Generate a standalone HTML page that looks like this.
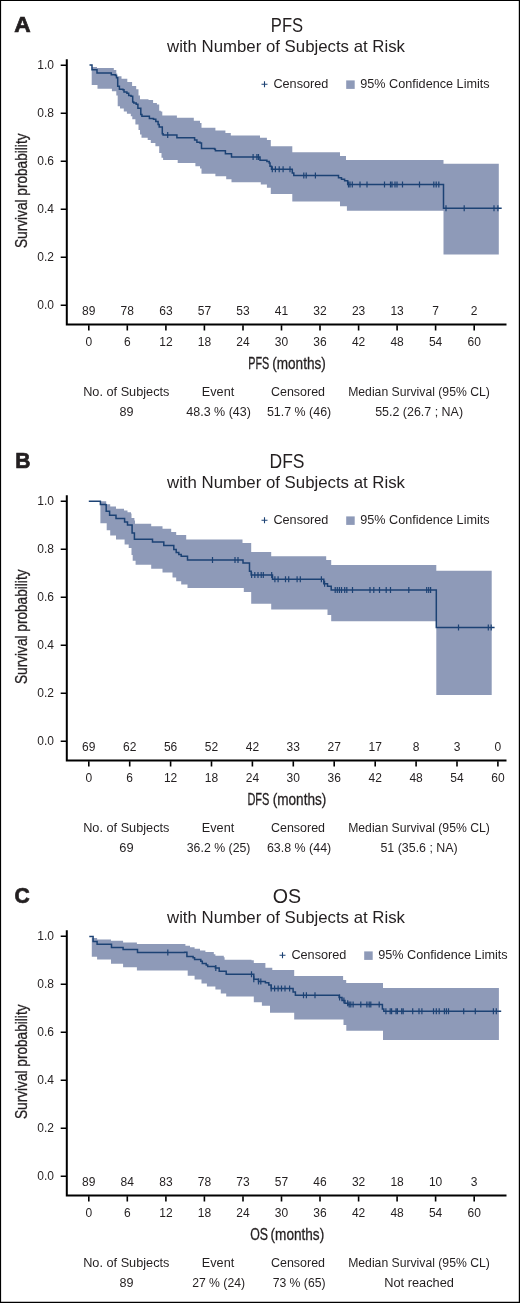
<!DOCTYPE html>
<html><head><meta charset="utf-8"><style>
html,body{margin:0;padding:0;background:#fff;}
svg{display:block;will-change:transform;}
text{font-family:"Liberation Sans", sans-serif;fill:#231f20;}
</style></head><body>
<svg width="520" height="1303" viewBox="0 0 520 1303">
<rect x="0" y="0" width="520" height="1303" fill="#fff"/>
<text x="14.2" y="31.7" font-size="21.5" text-anchor="start" textLength="16.4" lengthAdjust="spacingAndGlyphs" font-weight="bold" stroke="#231f20" stroke-width="0.7">A</text>
<text x="287" y="31.7" font-size="19.5" text-anchor="middle" textLength="32.3" lengthAdjust="spacingAndGlyphs">PFS</text>
<text x="167" y="51.9" font-size="17" text-anchor="start" textLength="238" lengthAdjust="spacingAndGlyphs">with Number of Subjects at Risk</text>
<polygon points="91.7,67.1 97.0,67.1 97.0,68.1 111.0,68.1 113.8,68.1 113.8,70.0 116.3,70.0 116.3,73.4 117.2,73.4 117.2,76.3 121.5,76.3 121.5,78.7 127.3,78.7 127.3,82.0 132.1,82.0 132.1,85.9 136.2,85.9 136.2,89.2 138.5,89.2 138.5,95.4 140.0,95.4 140.0,99.2 147.7,99.2 148.5,99.2 148.5,100.0 153.1,100.0 153.1,103.1 156.9,103.1 156.9,104.6 159.2,104.6 159.2,110.8 160.8,110.8 160.8,111.5 162.3,111.5 162.3,115.4 176.2,115.4 176.9,115.4 176.9,117.7 193.1,117.7 193.8,117.7 193.8,120.8 200.0,120.8 200.0,123.1 201.5,123.1 201.5,127.7 214.6,127.7 215.4,127.7 215.4,130.5 224.6,130.5 225.4,130.5 225.4,133.1 230.0,133.1 230.8,133.1 230.8,135.4 259.2,135.4 260.0,135.4 260.0,137.7 266.2,137.7 266.9,137.7 266.9,140.0 270.0,140.0 270.8,140.0 270.8,146.2 291.5,146.2 292.3,146.2 292.3,152.3 340.0,152.3 340.0,156.0 346.0,156.0 346.0,160.0 443.5,160.0 443.5,163.8 498.8,163.8 498.8,254.4 443.5,254.4 443.5,210.8 346.9,210.8 346.9,206.2 346.2,206.2 340.0,206.2 340.0,201.5 339.2,201.5 292.3,201.5 292.3,194.0 291.5,194.0 270.8,194.0 270.8,187.7 266.9,187.7 266.9,184.6 260.8,184.6 260.8,182.3 231.5,182.3 231.5,179.2 226.2,179.2 226.2,176.2 215.4,176.2 215.4,173.8 201.5,173.8 201.5,168.5 200.0,168.5 200.0,166.2 195.4,166.2 195.4,163.1 193.8,163.1 177.7,163.1 177.7,160.0 176.9,160.0 163.1,160.0 163.1,157.7 161.5,157.7 161.5,153.1 159.2,153.1 159.2,146.2 155.4,146.2 155.4,143.1 150.8,143.1 150.8,140.0 147.7,140.0 147.7,137.7 141.5,137.7 141.5,134.6 140.0,134.6 140.0,130.0 138.5,130.0 138.5,124.6 135.4,124.6 135.4,119.2 132.3,119.2 132.3,116.2 130.8,116.2 130.8,113.8 126.9,113.8 126.9,111.5 123.8,111.5 123.8,108.5 120.0,108.5 120.0,106.2 117.7,106.2 117.7,95.5 116.3,95.5 116.3,91.2 111.9,91.2 111.9,88.8 111.4,88.8 97.5,88.8 97.5,84.9 91.7,84.9" fill="#8e9ab8"/>
<polyline points="89.5,65.0 92.0,65.0 92.0,69.8 97.0,69.8 97.0,73.1 110.8,73.1 111.3,73.1 111.3,74.8 115.4,74.8 115.4,75.4 116.5,75.4 116.5,77.7 117.7,77.7 117.7,86.3 119.4,86.3 119.4,89.2 122.9,89.2 122.9,89.8 124.0,89.8 124.0,92.1 126.9,92.1 126.9,93.3 128.7,93.3 128.7,95.6 131.0,95.6 131.0,96.2 132.7,96.2 132.7,101.9 133.8,101.9 133.8,103.1 136.2,103.1 136.2,104.2 137.9,104.2 137.9,108.3 140.8,108.3 140.8,114.6 141.9,114.6 141.9,116.3 147.7,116.3 149.4,116.3 149.4,118.6 153.5,118.6 153.5,119.2 155.8,119.2 155.8,121.5 158.1,121.5 158.1,124.4 159.2,124.4 159.2,126.9 162.3,126.9 162.3,133.8 163.1,133.8 163.1,134.9 176.2,134.9 176.9,134.9 176.9,137.7 193.8,137.7 194.6,137.7 194.6,140.0 196.9,140.0 196.9,142.3 200.0,142.3 200.0,143.1 201.5,143.1 201.5,148.5 214.6,148.5 214.6,149.2 215.4,149.2 215.4,150.8 223.8,150.8 225.4,150.8 225.4,153.8 230.0,153.8 231.5,153.8 231.5,156.9 260.0,156.9 260.0,160.3 266.9,160.3 266.9,161.5 269.2,161.5 269.2,163.1 270.0,163.1 270.0,166.2 271.5,166.2 271.5,169.2 290.8,169.2 292.3,169.2 292.3,173.1 293.8,173.1 293.8,175.4 337.7,175.4 338.5,175.4 338.5,177.7 341.5,177.7 341.5,179.2 344.6,179.2 344.6,180.8 347.7,180.8 347.7,184.6 443.5,184.6 443.5,208.3 501.7,208.3" fill="none" stroke="#1c4274" stroke-width="1.5"/>
<path d="M167.7 131.9V137.9 M253.1 153.9V159.9 M256.9 153.9V159.9 M258.5 153.9V159.9 M272.3 166.2V172.2 M275.4 166.2V172.2 M279.2 166.2V172.2 M283.1 166.2V172.2 M290.0 166.2V172.2 M303.8 172.4V178.4 M306.2 172.4V178.4 M315.4 172.4V178.4 M348.5 181.6V187.6 M350.0 181.6V187.6 M352.3 181.6V187.6 M360.0 181.6V187.6 M367.0 181.6V187.6 M384.5 181.6V187.6 M390.5 181.6V187.6 M392.0 181.6V187.6 M395.0 181.6V187.6 M397.0 181.6V187.6 M402.5 181.6V187.6 M419.5 181.6V187.6 M433.8 181.6V187.6 M436.2 181.6V187.6 M438.8 181.6V187.6 M446.0 205.3V211.3 M464.2 205.3V211.3 M494.0 205.3V211.3 M497.9 205.3V211.3" stroke="#1c4274" stroke-width="1.2" fill="none"/>
<path d="M261.5 84.3h6M264.5 81.3v6" stroke="#1c4274" stroke-width="1.1"/>
<text x="273.4" y="88.1" font-size="13.3" text-anchor="start" textLength="55" lengthAdjust="spacingAndGlyphs">Censored</text>
<rect x="346.2" y="80.4" width="8.5" height="8.5" fill="#8e9ab8"/>
<text x="360.2" y="88.1" font-size="13.3" text-anchor="start" textLength="129.5" lengthAdjust="spacingAndGlyphs">95% Confidence Limits</text>
<path d="M66.8 59.3V325.6M65.8 324.6H506.5" stroke="#000" stroke-width="2" fill="none"/>
<path d="M60.7 65.2H66.8 M60.7 113.2H66.8 M60.7 161.2H66.8 M60.7 209.2H66.8 M60.7 257.2H66.8 M60.7 305.2H66.8 M88.8 325.2V330.4 M127.3 325.2V330.4 M165.9 325.2V330.4 M204.4 325.2V330.4 M243.0 325.2V330.4 M281.5 325.2V330.4 M320.0 325.2V330.4 M358.6 325.2V330.4 M397.1 325.2V330.4 M435.6 325.2V330.4 M474.2 325.2V330.4" stroke="#000" stroke-width="1.6" fill="none"/>
<text x="54.0" y="68.8" font-size="12" text-anchor="end">1.0</text>
<text x="54.0" y="116.8" font-size="12" text-anchor="end">0.8</text>
<text x="54.0" y="164.79999999999998" font-size="12" text-anchor="end">0.6</text>
<text x="54.0" y="212.79999999999998" font-size="12" text-anchor="end">0.4</text>
<text x="54.0" y="260.8" font-size="12" text-anchor="end">0.2</text>
<text x="54.0" y="308.8" font-size="12" text-anchor="end">0.0</text>
<text x="88.8" y="346.2" font-size="12" text-anchor="middle">0</text>
<text x="88.8" y="315.4" font-size="12" text-anchor="middle">89</text>
<text x="127.3" y="346.2" font-size="12" text-anchor="middle">6</text>
<text x="127.3" y="315.4" font-size="12" text-anchor="middle">78</text>
<text x="165.9" y="346.2" font-size="12" text-anchor="middle">12</text>
<text x="165.9" y="315.4" font-size="12" text-anchor="middle">63</text>
<text x="204.4" y="346.2" font-size="12" text-anchor="middle">18</text>
<text x="204.4" y="315.4" font-size="12" text-anchor="middle">57</text>
<text x="243.0" y="346.2" font-size="12" text-anchor="middle">24</text>
<text x="243.0" y="315.4" font-size="12" text-anchor="middle">53</text>
<text x="281.5" y="346.2" font-size="12" text-anchor="middle">30</text>
<text x="281.5" y="315.4" font-size="12" text-anchor="middle">41</text>
<text x="320.0" y="346.2" font-size="12" text-anchor="middle">36</text>
<text x="320.0" y="315.4" font-size="12" text-anchor="middle">32</text>
<text x="358.6" y="346.2" font-size="12" text-anchor="middle">42</text>
<text x="358.6" y="315.4" font-size="12" text-anchor="middle">23</text>
<text x="397.1" y="346.2" font-size="12" text-anchor="middle">48</text>
<text x="397.1" y="315.4" font-size="12" text-anchor="middle">13</text>
<text x="435.6" y="346.2" font-size="12" text-anchor="middle">54</text>
<text x="435.6" y="315.4" font-size="12" text-anchor="middle">7</text>
<text x="474.2" y="346.2" font-size="12" text-anchor="middle">60</text>
<text x="474.2" y="315.4" font-size="12" text-anchor="middle">2</text>
<text transform="translate(26.8,248) rotate(-90)" font-size="16.5" textLength="114.5" lengthAdjust="spacingAndGlyphs" stroke="#231f20" stroke-width="0.3">Survival probability</text>
<text x="248.2" y="369.4" font-size="16.7" text-anchor="start" textLength="21.0" lengthAdjust="spacingAndGlyphs" stroke="#231f20" stroke-width="0.3">PFS</text>
<text x="272.2" y="369.4" font-size="16.7" text-anchor="start" textLength="53.6" lengthAdjust="spacingAndGlyphs" stroke="#231f20" stroke-width="0.3">(months)</text>
<text x="126.3" y="396.3" font-size="12" text-anchor="middle" textLength="86.3" lengthAdjust="spacingAndGlyphs">No. of Subjects</text>
<text x="218" y="396.3" font-size="12" text-anchor="middle" textLength="32.4" lengthAdjust="spacingAndGlyphs">Event</text>
<text x="298" y="396.3" font-size="12" text-anchor="middle" textLength="54" lengthAdjust="spacingAndGlyphs">Censored</text>
<text x="419" y="396.3" font-size="12" text-anchor="middle" textLength="141.6" lengthAdjust="spacingAndGlyphs">Median Survival (95% CL)</text>
<text x="126.5" y="415.6" font-size="12" text-anchor="middle" textLength="14" lengthAdjust="spacingAndGlyphs">89</text>
<text x="218.6" y="415.6" font-size="12" text-anchor="middle" textLength="64.6" lengthAdjust="spacingAndGlyphs">48.3 % (43)</text>
<text x="299.1" y="415.6" font-size="12" text-anchor="middle" textLength="64.3" lengthAdjust="spacingAndGlyphs">51.7 % (46)</text>
<text x="419.1" y="415.6" font-size="12" text-anchor="middle" textLength="87.9" lengthAdjust="spacingAndGlyphs">55.2 (26.7 ; NA)</text>
<text x="15.2" y="467.7" font-size="21.5" text-anchor="start" textLength="15.2" lengthAdjust="spacingAndGlyphs" font-weight="bold" stroke="#231f20" stroke-width="0.7">B</text>
<text x="287" y="467.7" font-size="19.5" text-anchor="middle" textLength="35" lengthAdjust="spacingAndGlyphs">DFS</text>
<text x="167" y="487.9" font-size="17" text-anchor="start" textLength="238" lengthAdjust="spacingAndGlyphs">with Number of Subjects at Risk</text>
<polygon points="100.4,501.3 106.2,501.3 106.2,501.9 106.2,504.2 110.2,504.2 110.2,506.5 116.0,506.5 116.0,508.8 124.0,508.8 124.0,510.6 127.5,510.6 127.5,512.3 131.0,512.3 131.0,513.5 131.5,513.5 131.5,518.1 134.4,518.1 134.4,520.4 135.0,520.4 135.0,523.8 151.2,523.8 151.2,526.2 162.5,526.2 162.5,528.8 171.2,528.8 171.2,532.0 176.2,532.0 176.2,535.0 186.2,535.0 186.2,539.5 242.5,539.5 242.5,543.0 248.8,543.0 251.2,543.0 251.2,552.0 271.2,552.0 271.2,556.2 326.2,556.2 326.2,560.0 331.2,560.0 331.2,565.0 436.3,565.0 436.3,570.8 491.7,570.8 491.7,695.0 436.3,695.0 436.3,621.2 331.2,621.2 331.2,615.0 327.5,615.0 327.5,609.5 271.2,609.5 271.2,603.8 251.2,603.8 251.2,592.0 250.0,592.0 243.8,592.0 243.8,588.0 242.5,588.0 187.5,588.0 187.5,584.5 181.2,584.5 181.2,581.2 176.2,581.2 176.2,577.5 172.5,577.5 172.5,572.5 162.5,572.5 162.5,568.8 151.2,568.8 151.2,564.8 135.6,564.8 135.6,560.8 132.7,560.8 132.7,555.0 131.5,555.0 131.5,548.1 128.7,548.1 128.7,544.6 124.6,544.6 124.6,539.4 116.0,539.4 116.0,535.4 110.2,535.4 110.2,530.2 106.7,530.2 106.7,523.3 100.4,523.3" fill="#8e9ab8"/>
<polyline points="88.8,501.3 99.8,501.3 100.4,501.3 100.4,504.5 105.6,504.5 105.6,504.8 106.2,504.8 106.2,511.2 109.6,511.2 109.6,515.2 116.0,515.2 116.0,518.5 124.6,518.5 124.6,522.1 127.5,522.1 127.5,525.0 132.1,525.0 132.1,533.1 134.4,533.1 134.4,539.3 151.2,539.3 152.5,539.3 152.5,542.0 162.5,542.0 163.8,542.0 163.8,545.5 172.5,545.5 173.8,545.5 173.8,549.5 176.2,549.5 176.2,552.5 178.8,552.5 178.8,554.5 181.2,554.5 181.2,556.2 187.0,556.2 187.5,556.2 187.5,560.0 242.5,560.0 243.0,560.0 243.0,563.0 248.8,563.0 249.5,563.0 249.5,571.2 251.2,571.2 251.2,575.0 271.2,575.0 272.5,575.0 272.5,579.2 322.5,579.2 323.8,579.2 323.8,583.8 327.5,583.8 327.5,586.2 331.2,586.2 331.2,590.0 436.3,590.0 436.3,627.5 494.6,627.5" fill="none" stroke="#1c4274" stroke-width="1.5"/>
<path d="M212.5 557.0V563.0 M235.0 557.0V563.0 M238.0 557.0V563.0 M251.6 572.0V578.0 M254.8 572.0V578.0 M258.0 572.0V578.0 M261.2 572.0V578.0 M263.3 572.0V578.0 M271.7 572.0V578.0 M274.9 576.2V582.2 M278.1 576.2V582.2 M285.5 576.2V582.2 M288.7 576.2V582.2 M297.1 576.2V582.2 M300.3 576.2V582.2 M321.4 576.2V582.2 M324.6 580.8V586.8 M335.2 587.0V593.0 M337.3 587.0V593.0 M339.4 587.0V593.0 M341.5 587.0V593.0 M344.7 587.0V593.0 M346.8 587.0V593.0 M352.5 587.0V593.0 M370.0 587.0V593.0 M373.8 587.0V593.0 M379.5 587.0V593.0 M386.2 587.0V593.0 M390.5 587.0V593.0 M408.8 587.0V593.0 M426.7 587.0V593.0 M428.7 587.0V593.0 M430.6 587.0V593.0 M458.5 624.5V630.5 M488.3 624.5V630.5 M491.2 624.5V630.5" stroke="#1c4274" stroke-width="1.2" fill="none"/>
<path d="M261.5 520.3h6M264.5 517.3v6" stroke="#1c4274" stroke-width="1.1"/>
<text x="273.4" y="524.1" font-size="13.3" text-anchor="start" textLength="55" lengthAdjust="spacingAndGlyphs">Censored</text>
<rect x="346.2" y="516.4" width="8.5" height="8.5" fill="#8e9ab8"/>
<text x="360.2" y="524.1" font-size="13.3" text-anchor="start" textLength="129.5" lengthAdjust="spacingAndGlyphs">95% Confidence Limits</text>
<path d="M66.8 495.3V761.6M65.8 760.6H506.5" stroke="#000" stroke-width="2" fill="none"/>
<path d="M60.7 501.2H66.8 M60.7 549.2H66.8 M60.7 597.2H66.8 M60.7 645.2H66.8 M60.7 693.2H66.8 M60.7 741.2H66.8 M88.8 761.2V766.4 M129.7 761.2V766.4 M170.6 761.2V766.4 M211.5 761.2V766.4 M252.4 761.2V766.4 M293.3 761.2V766.4 M334.2 761.2V766.4 M375.2 761.2V766.4 M416.1 761.2V766.4 M457.0 761.2V766.4 M497.9 761.2V766.4" stroke="#000" stroke-width="1.6" fill="none"/>
<text x="54.0" y="504.8" font-size="12" text-anchor="end">1.0</text>
<text x="54.0" y="552.8000000000001" font-size="12" text-anchor="end">0.8</text>
<text x="54.0" y="600.8000000000001" font-size="12" text-anchor="end">0.6</text>
<text x="54.0" y="648.8000000000001" font-size="12" text-anchor="end">0.4</text>
<text x="54.0" y="696.8000000000001" font-size="12" text-anchor="end">0.2</text>
<text x="54.0" y="744.8000000000001" font-size="12" text-anchor="end">0.0</text>
<text x="88.8" y="782.2" font-size="12" text-anchor="middle">0</text>
<text x="88.8" y="751.4" font-size="12" text-anchor="middle">69</text>
<text x="129.7" y="782.2" font-size="12" text-anchor="middle">6</text>
<text x="129.7" y="751.4" font-size="12" text-anchor="middle">62</text>
<text x="170.6" y="782.2" font-size="12" text-anchor="middle">12</text>
<text x="170.6" y="751.4" font-size="12" text-anchor="middle">56</text>
<text x="211.5" y="782.2" font-size="12" text-anchor="middle">18</text>
<text x="211.5" y="751.4" font-size="12" text-anchor="middle">52</text>
<text x="252.4" y="782.2" font-size="12" text-anchor="middle">24</text>
<text x="252.4" y="751.4" font-size="12" text-anchor="middle">42</text>
<text x="293.3" y="782.2" font-size="12" text-anchor="middle">30</text>
<text x="293.3" y="751.4" font-size="12" text-anchor="middle">33</text>
<text x="334.2" y="782.2" font-size="12" text-anchor="middle">36</text>
<text x="334.2" y="751.4" font-size="12" text-anchor="middle">27</text>
<text x="375.2" y="782.2" font-size="12" text-anchor="middle">42</text>
<text x="375.2" y="751.4" font-size="12" text-anchor="middle">17</text>
<text x="416.1" y="782.2" font-size="12" text-anchor="middle">48</text>
<text x="416.1" y="751.4" font-size="12" text-anchor="middle">8</text>
<text x="457.0" y="782.2" font-size="12" text-anchor="middle">54</text>
<text x="457.0" y="751.4" font-size="12" text-anchor="middle">3</text>
<text x="497.9" y="782.2" font-size="12" text-anchor="middle">60</text>
<text x="497.9" y="751.4" font-size="12" text-anchor="middle">0</text>
<text transform="translate(26.8,684) rotate(-90)" font-size="16.5" textLength="114.5" lengthAdjust="spacingAndGlyphs" stroke="#231f20" stroke-width="0.3">Survival probability</text>
<text x="247.4" y="805.4" font-size="16.7" text-anchor="start" textLength="21.9" lengthAdjust="spacingAndGlyphs" stroke="#231f20" stroke-width="0.3">DFS</text>
<text x="272.7" y="805.4" font-size="16.7" text-anchor="start" textLength="53.6" lengthAdjust="spacingAndGlyphs" stroke="#231f20" stroke-width="0.3">(months)</text>
<text x="126.3" y="832.3" font-size="12" text-anchor="middle" textLength="86.3" lengthAdjust="spacingAndGlyphs">No. of Subjects</text>
<text x="218" y="832.3" font-size="12" text-anchor="middle" textLength="32.4" lengthAdjust="spacingAndGlyphs">Event</text>
<text x="298" y="832.3" font-size="12" text-anchor="middle" textLength="54" lengthAdjust="spacingAndGlyphs">Censored</text>
<text x="419" y="832.3" font-size="12" text-anchor="middle" textLength="141.6" lengthAdjust="spacingAndGlyphs">Median Survival (95% CL)</text>
<text x="126.5" y="851.6" font-size="12" text-anchor="middle" textLength="14.3" lengthAdjust="spacingAndGlyphs">69</text>
<text x="218.6" y="851.6" font-size="12" text-anchor="middle" textLength="63.7" lengthAdjust="spacingAndGlyphs">36.2 % (25)</text>
<text x="299.1" y="851.6" font-size="12" text-anchor="middle" textLength="64.3" lengthAdjust="spacingAndGlyphs">63.8 % (44)</text>
<text x="419.1" y="851.6" font-size="12" text-anchor="middle" textLength="77.3" lengthAdjust="spacingAndGlyphs">51 (35.6 ; NA)</text>
<text x="14.6" y="902.7" font-size="21.5" text-anchor="start" textLength="15.2" lengthAdjust="spacingAndGlyphs" font-weight="bold" stroke="#231f20" stroke-width="0.7">C</text>
<text x="287" y="902.7" font-size="19.5" text-anchor="middle" textLength="28.4" lengthAdjust="spacingAndGlyphs">OS</text>
<text x="167" y="922.9" font-size="17" text-anchor="start" textLength="238" lengthAdjust="spacingAndGlyphs">with Number of Subjects at Risk</text>
<polygon points="91.8,938.0 97.1,938.0 97.1,939.5 111.0,939.5 111.0,940.7 123.1,940.7 123.1,942.5 136.9,942.5 136.9,943.9 184.5,943.9 185.4,943.9 185.4,945.8 190.0,945.8 190.0,947.3 194.6,947.3 194.6,948.8 200.0,948.8 200.0,950.4 205.4,950.4 205.4,951.9 213.8,951.9 213.8,954.2 215.4,954.2 215.4,955.8 223.8,955.8 223.8,957.3 224.6,957.3 224.6,959.8 251.5,959.8 251.5,960.3 253.8,960.3 253.8,963.0 265.4,963.0 265.4,967.7 272.3,967.7 272.3,970.0 294.2,970.0 294.2,971.5 294.2,975.9 342.3,975.9 343.1,975.9 343.1,980.0 346.2,980.0 346.2,983.1 383.0,983.1 383.0,988.0 498.9,988.0 498.9,1039.9 383.0,1039.9 383.0,1030.7 346.3,1030.7 346.3,1024.9 343.5,1024.9 343.5,1020.6 343.5,1019.6 294.2,1019.6 294.2,1012.7 270.0,1012.7 270.0,1005.8 261.9,1005.8 261.9,1002.3 253.8,1002.3 253.8,996.5 251.5,996.5 226.2,996.5 226.2,993.5 220.8,993.5 220.8,989.6 215.4,989.6 215.4,986.5 206.9,986.5 206.9,983.5 201.5,983.5 201.5,979.6 194.6,979.6 194.6,975.8 187.7,975.8 187.7,970.4 184.6,970.4 184.6,970.6 136.9,970.6 136.9,967.2 123.1,967.2 123.1,963.7 111.0,963.7 111.0,959.4 97.1,959.4 97.1,956.8 91.8,956.8" fill="#8e9ab8"/>
<polyline points="89.3,936.5 92.2,936.5 93.1,936.5 93.1,941.4 97.1,941.4 97.1,944.3 111.0,944.3 111.5,944.3 111.5,947.5 122.5,947.5 123.1,947.5 123.1,949.5 136.9,949.5 137.5,949.5 137.5,952.4 184.6,952.4 184.6,952.2 186.9,952.2 186.9,956.5 193.1,956.5 193.1,957.8 194.6,957.8 194.6,959.6 200.8,959.6 200.8,961.2 202.3,961.2 202.3,963.5 206.2,963.5 206.2,965.0 207.7,965.0 207.7,966.5 215.4,966.5 215.4,968.1 219.2,968.1 219.2,971.2 226.2,971.2 226.2,974.2 251.5,974.2 253.8,974.2 253.8,979.2 258.5,979.2 258.5,981.5 265.4,981.5 265.4,982.7 268.8,982.7 268.8,985.0 271.2,985.0 271.2,988.5 290.6,988.5 293.1,988.5 293.1,991.9 295.4,991.9 295.4,995.2 337.7,995.2 339.1,995.2 339.1,997.5 342.0,997.5 342.0,1000.4 344.9,1000.4 344.9,1003.3 347.8,1003.3 347.8,1004.5 381.0,1004.5 382.4,1004.5 382.4,1009.0 383.8,1009.0 383.8,1011.3 501.2,1011.3" fill="none" stroke="#1c4274" stroke-width="1.5"/>
<path d="M167.8 949.4V955.4 M215.8 965.1V971.1 M251.5 971.2V977.2 M253.8 976.2V982.2 M258.5 978.5V984.5 M260.8 978.5V984.5 M271.2 985.5V991.5 M274.6 985.5V991.5 M278.1 985.5V991.5 M281.5 985.5V991.5 M285.0 985.5V991.5 M289.6 985.5V991.5 M303.5 992.2V998.2 M306.4 992.2V998.2 M315.0 992.2V998.2 M339.6 994.5V1000.5 M343.9 997.4V1003.4 M347.7 1000.3V1006.3 M349.2 1001.5V1007.5 M350.8 1001.5V1007.5 M353.1 1001.5V1007.5 M360.8 1001.5V1007.5 M366.9 1001.5V1007.5 M369.2 1001.5V1007.5 M370.8 1001.5V1007.5 M379.2 1001.5V1007.5 M385.9 1008.3V1014.3 M390.2 1008.3V1014.3 M391.6 1008.3V1014.3 M396.0 1008.3V1014.3 M397.4 1008.3V1014.3 M401.7 1008.3V1014.3 M403.2 1008.3V1014.3 M412.7 1008.3V1014.3 M419.0 1008.3V1014.3 M421.9 1008.3V1014.3 M433.5 1008.3V1014.3 M436.3 1008.3V1014.3 M439.2 1008.3V1014.3 M444.4 1008.3V1014.3 M446.4 1008.3V1014.3 M448.5 1008.3V1014.3 M463.7 1008.3V1014.3 M475.3 1008.3V1014.3 M493.4 1008.3V1014.3 M496.3 1008.3V1014.3" stroke="#1c4274" stroke-width="1.2" fill="none"/>
<path d="M279.5 955.3h6M282.5 952.3v6" stroke="#1c4274" stroke-width="1.1"/>
<text x="291.4" y="959.1" font-size="13.3" text-anchor="start" textLength="55" lengthAdjust="spacingAndGlyphs">Censored</text>
<rect x="364.2" y="951.4" width="8.5" height="8.5" fill="#8e9ab8"/>
<text x="378.2" y="959.1" font-size="13.3" text-anchor="start" textLength="129.5" lengthAdjust="spacingAndGlyphs">95% Confidence Limits</text>
<path d="M66.8 930.3V1196.6M65.8 1195.6H506.5" stroke="#000" stroke-width="2" fill="none"/>
<path d="M60.7 936.2H66.8 M60.7 984.2H66.8 M60.7 1032.2H66.8 M60.7 1080.2H66.8 M60.7 1128.2H66.8 M60.7 1176.2H66.8 M88.8 1196.2V1201.4 M127.3 1196.2V1201.4 M165.9 1196.2V1201.4 M204.4 1196.2V1201.4 M243.0 1196.2V1201.4 M281.5 1196.2V1201.4 M320.0 1196.2V1201.4 M358.6 1196.2V1201.4 M397.1 1196.2V1201.4 M435.6 1196.2V1201.4 M474.2 1196.2V1201.4" stroke="#000" stroke-width="1.6" fill="none"/>
<text x="54.0" y="939.8000000000001" font-size="12" text-anchor="end">1.0</text>
<text x="54.0" y="987.8000000000001" font-size="12" text-anchor="end">0.8</text>
<text x="54.0" y="1035.8" font-size="12" text-anchor="end">0.6</text>
<text x="54.0" y="1083.8" font-size="12" text-anchor="end">0.4</text>
<text x="54.0" y="1131.8" font-size="12" text-anchor="end">0.2</text>
<text x="54.0" y="1179.8" font-size="12" text-anchor="end">0.0</text>
<text x="88.8" y="1217.2" font-size="12" text-anchor="middle">0</text>
<text x="88.8" y="1186.4" font-size="12" text-anchor="middle">89</text>
<text x="127.3" y="1217.2" font-size="12" text-anchor="middle">6</text>
<text x="127.3" y="1186.4" font-size="12" text-anchor="middle">84</text>
<text x="165.9" y="1217.2" font-size="12" text-anchor="middle">12</text>
<text x="165.9" y="1186.4" font-size="12" text-anchor="middle">83</text>
<text x="204.4" y="1217.2" font-size="12" text-anchor="middle">18</text>
<text x="204.4" y="1186.4" font-size="12" text-anchor="middle">78</text>
<text x="243.0" y="1217.2" font-size="12" text-anchor="middle">24</text>
<text x="243.0" y="1186.4" font-size="12" text-anchor="middle">73</text>
<text x="281.5" y="1217.2" font-size="12" text-anchor="middle">30</text>
<text x="281.5" y="1186.4" font-size="12" text-anchor="middle">57</text>
<text x="320.0" y="1217.2" font-size="12" text-anchor="middle">36</text>
<text x="320.0" y="1186.4" font-size="12" text-anchor="middle">46</text>
<text x="358.6" y="1217.2" font-size="12" text-anchor="middle">42</text>
<text x="358.6" y="1186.4" font-size="12" text-anchor="middle">32</text>
<text x="397.1" y="1217.2" font-size="12" text-anchor="middle">48</text>
<text x="397.1" y="1186.4" font-size="12" text-anchor="middle">18</text>
<text x="435.6" y="1217.2" font-size="12" text-anchor="middle">54</text>
<text x="435.6" y="1186.4" font-size="12" text-anchor="middle">10</text>
<text x="474.2" y="1217.2" font-size="12" text-anchor="middle">60</text>
<text x="474.2" y="1186.4" font-size="12" text-anchor="middle">3</text>
<text transform="translate(26.8,1119) rotate(-90)" font-size="16.5" textLength="114.5" lengthAdjust="spacingAndGlyphs" stroke="#231f20" stroke-width="0.3">Survival probability</text>
<text x="250.2" y="1240.4" font-size="16.7" text-anchor="start" textLength="17.8" lengthAdjust="spacingAndGlyphs" stroke="#231f20" stroke-width="0.3">OS</text>
<text x="270.6" y="1240.4" font-size="16.7" text-anchor="start" textLength="53.6" lengthAdjust="spacingAndGlyphs" stroke="#231f20" stroke-width="0.3">(months)</text>
<text x="126.3" y="1267.3" font-size="12" text-anchor="middle" textLength="86.3" lengthAdjust="spacingAndGlyphs">No. of Subjects</text>
<text x="218" y="1267.3" font-size="12" text-anchor="middle" textLength="32.4" lengthAdjust="spacingAndGlyphs">Event</text>
<text x="298" y="1267.3" font-size="12" text-anchor="middle" textLength="54" lengthAdjust="spacingAndGlyphs">Censored</text>
<text x="419" y="1267.3" font-size="12" text-anchor="middle" textLength="141.6" lengthAdjust="spacingAndGlyphs">Median Survival (95% CL)</text>
<text x="126.5" y="1286.6" font-size="12" text-anchor="middle" textLength="14" lengthAdjust="spacingAndGlyphs">89</text>
<text x="218.6" y="1286.6" font-size="12" text-anchor="middle" textLength="52.9" lengthAdjust="spacingAndGlyphs">27 % (24)</text>
<text x="299.1" y="1286.6" font-size="12" text-anchor="middle" textLength="52.9" lengthAdjust="spacingAndGlyphs">73 % (65)</text>
<text x="419.1" y="1286.6" font-size="12" text-anchor="middle" textLength="69.8" lengthAdjust="spacingAndGlyphs">Not reached</text>
<path d="M0 0H520V1303H0Z M1.1 1.1V1301.8H518.8V1.1Z" fill="#000" fill-rule="evenodd"/>
</svg>
</body></html>
